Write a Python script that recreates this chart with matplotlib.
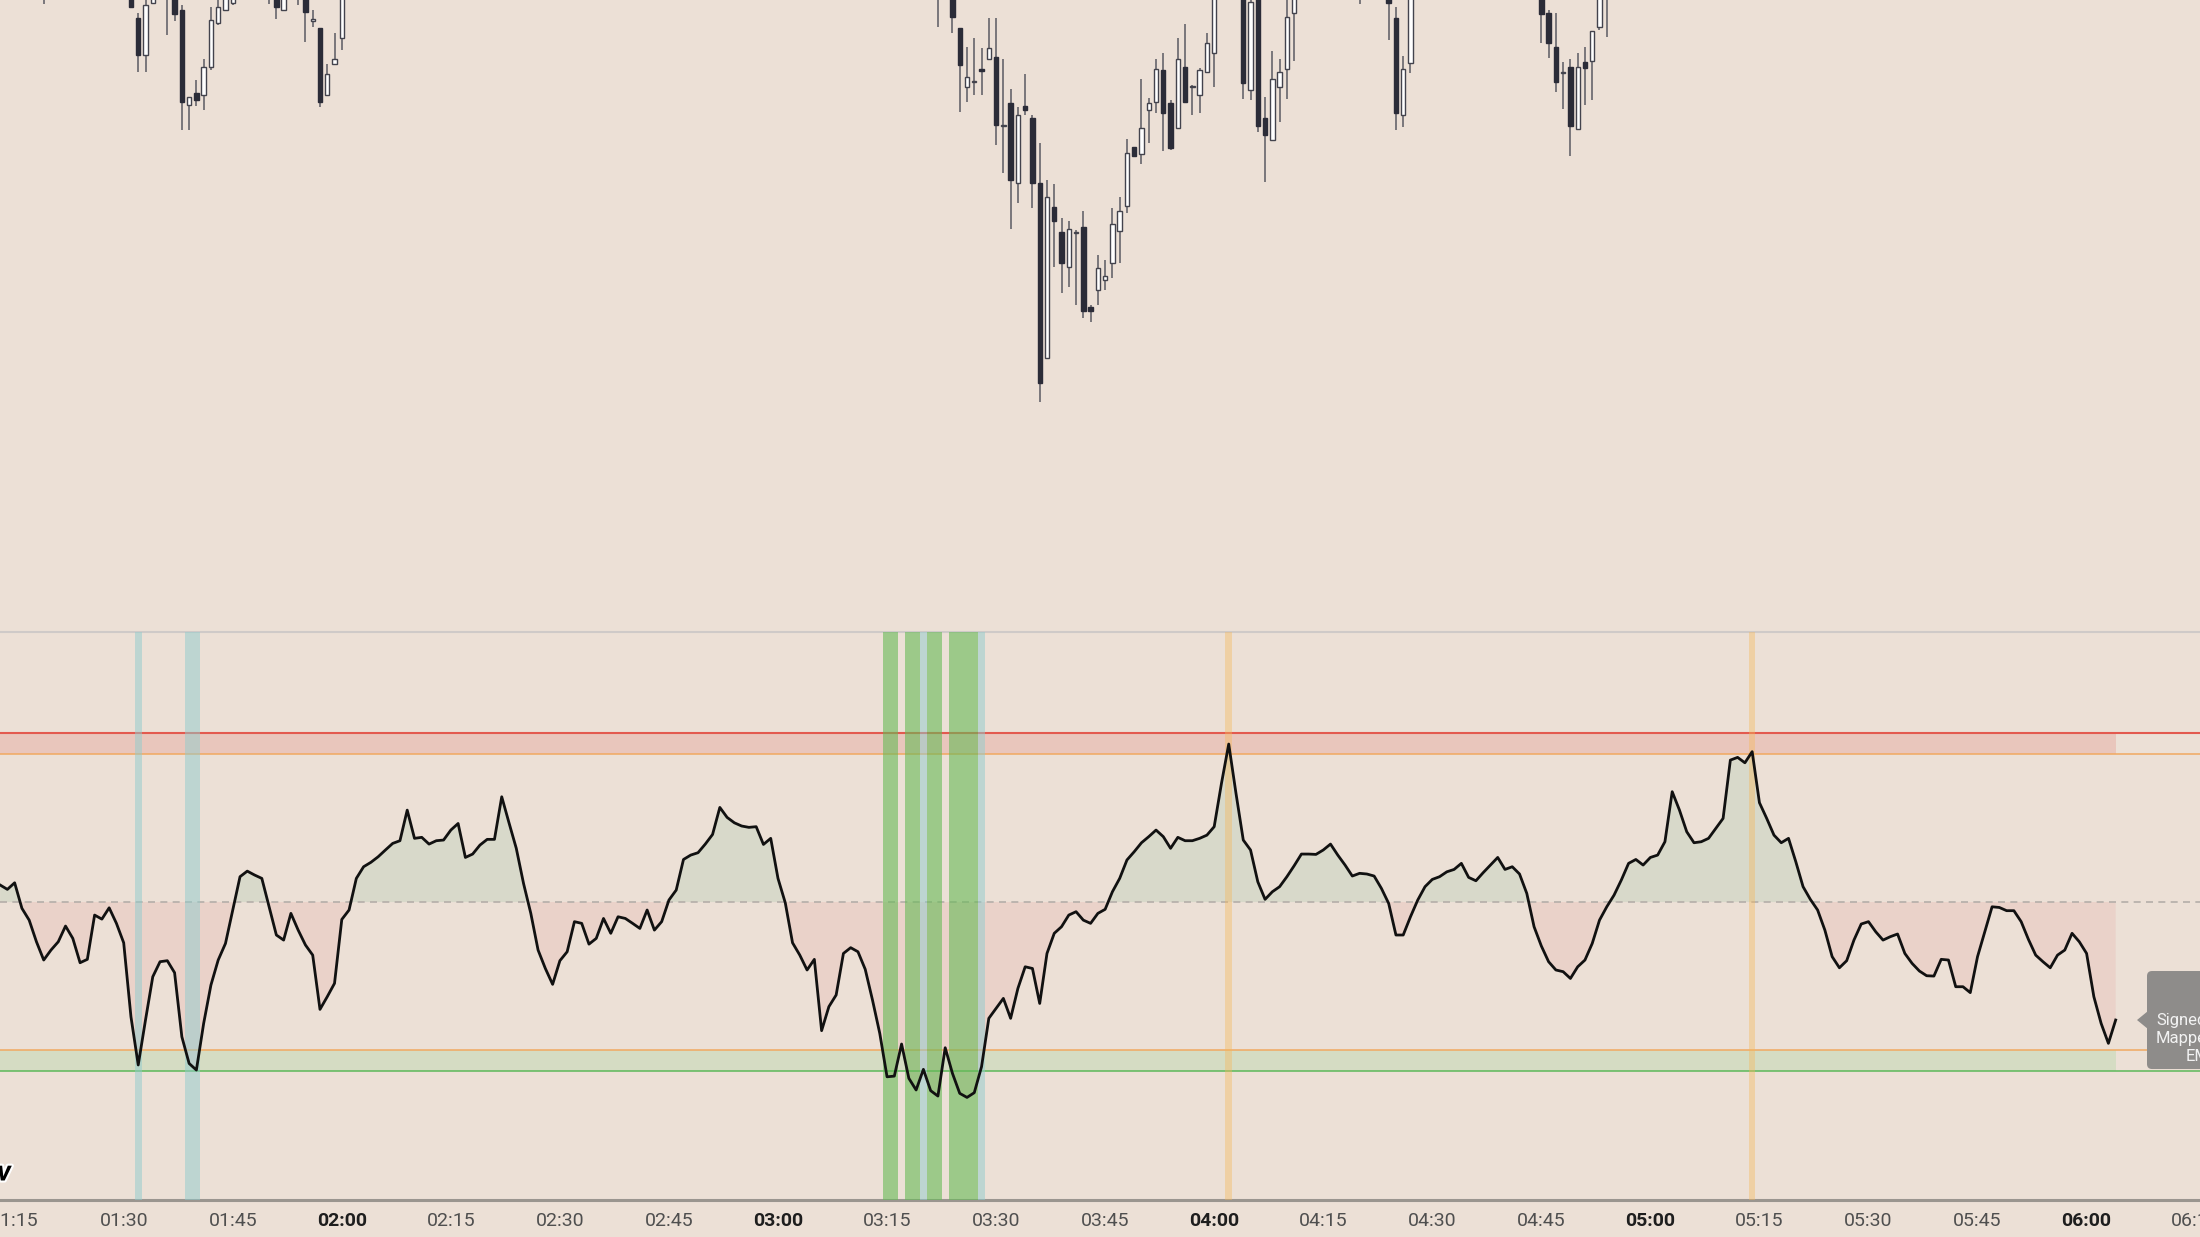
import numpy as np
import matplotlib.pyplot as plt
from matplotlib.patches import FancyBboxPatch, Polygon
from matplotlib.transforms import IdentityTransform
from matplotlib import patheffects

plt.rcParams['font.family'] = ['Roboto', 'DejaVu Sans']

# one bar per minute, bar 0 = 01:13
start_min = 73

# oscillator ("Signed Mapped EMA"), one value per bar
osc = [
    10.1, 7.5, 11.4, -3.7, -10.7, -23.5, -34.3, -28.4, -23.5, -14.2,
    -21.5, -35.9, -33.9, -7.7, -10.1, -3.4, -12.6, -24.1, -67.9, -96.4,
    -69.8, -44.2, -35.3, -34.7, -41.8, -79.7, -95.5, -99.4, -71.8, -49.1,
    -34.3, -24.5, -4.7, 15.0, 18.3, 16.0, 14.0, -2.8, -19.5, -22.5,
    -6.7, -16.6, -25.4, -31.4, -63.5, -56.0, -48.1, -10.3, -4.7, 14.0,
    20.9, 23.5, 26.8, 30.8, 34.7, 36.3, 54.4, 37.7, 38.3, 34.3,
    36.3, 36.7, 42.6, 46.5, 26.4, 28.4, 33.7, 37.1, 37.1, 62.3,
    46.9, 31.8, 11.0, -6.7, -28.4, -39.3, -48.7, -34.7, -29.4, -11.6,
    -12.6, -24.9, -21.5, -9.7, -18.5, -8.7, -9.7, -12.6, -15.6, -4.7,
    -16.6, -11.6, 1.2, 7.1, 25.2, 27.8, 29.2, 34.3, 40.0, 56.0,
    50.1, 46.9, 45.0, 44.2, 44.6, 34.1, 37.7, 14.0, -0.4, -24.1,
    -31.4, -40.2, -33.9, -76.1, -61.9, -55.0, -30.4, -27.0, -29.4, -39.8,
    -58.0, -77.7, -103.4, -103.0, -84.0, -104.3, -111.2, -99.0, -111.6, -114.8,
    -86.2, -101.4, -113.2, -115.6, -112.8, -97.4, -68.8, -62.9, -57.0, -68.8,
    -51.1, -38.3, -39.3, -60.0, -30.4, -18.5, -14.6, -7.7, -5.7, -10.7,
    -12.6, -6.7, -4.3, 6.1, 14.0, 24.9, 29.8, 35.1, 38.7, 42.6,
    38.7, 31.8, 38.3, 36.3, 36.3, 37.7, 39.6, 44.6, 70.2, 93.5,
    64.3, 36.7, 30.8, 12.0, 1.6, 6.1, 9.1, 15.0, 21.5, 28.4,
    28.4, 28.2, 30.8, 34.3, 27.8, 21.9, 15.4, 17.0, 16.6, 15.4,
    8.1, -0.8, -19.5, -19.5, -8.7, 1.2, 9.1, 13.4, 15.0, 17.9,
    19.3, 22.9, 14.6, 12.6, 17.4, 21.9, 26.4, 19.3, 20.9, 16.6,
    5.1, -14.6, -26.0, -35.3, -40.2, -41.2, -45.2, -38.3, -34.3, -24.5,
    -10.7, -2.8, 4.1, 13.0, 22.9, 25.2, 21.9, 26.4, 27.8, 35.7,
    65.3, 54.4, 41.6, 35.1, 35.7, 37.7, 43.6, 49.5, 84.0, 85.6,
    82.4, 89.0, 58.8, 49.5, 39.6, 35.1, 37.7, 23.9, 9.1, 1.6,
    -4.7, -16.6, -32.3, -38.9, -34.7, -22.5, -13.0, -11.6, -17.6, -22.5,
    -20.5, -18.9, -30.4, -36.3, -40.8, -43.6, -43.8, -33.9, -34.3, -50.1,
    -50.1, -53.6, -32.3, -17.6, -2.8, -3.2, -5.1, -5.1, -11.6, -22.1,
    -31.4, -35.3, -38.9, -31.4, -28.4, -18.5, -23.5, -30.4, -56.0, -71.8,
    -83.6, -69.8,
]

# candles visible in the price pane (bar index, OHLC)
cdl_idx = [6, 18, 19, 20, 21, 23, 24, 25, 26, 27, 28, 29, 30, 31, 32, 37, 38, 39, 41, 42, 43, 44, 45, 46, 47,
           129, 131, 132, 133, 134, 135, 136, 137, 138, 139, 140, 141, 142, 143, 144, 145, 146, 147, 148, 149,
           150, 151, 152, 153, 154, 155, 156, 157, 158, 159, 160, 161, 162, 163, 164, 165, 166, 167,
           171, 172, 173, 174, 175, 176, 177, 178, 187, 191, 192, 193, 194,
           212, 213, 214, 215, 216, 217, 218, 219, 220, 221]
cdl_open = [5901.0, 5900.75, 5899.09, 5897.25, 5899.87, 5900.5, 5901.0, 5899.5, 5894.75, 5895.34, 5895.25, 5896.67,
            5898.87, 5899.5, 5899.87, 5900.5, 5901.25, 5899.5, 5901.5, 5901.0, 5898.97, 5898.59, 5895.25, 5896.8, 5898.09,
            5900.5, 5901.0, 5898.59, 5895.64, 5895.88, 5896.55, 5897.04, 5897.17, 5893.68, 5894.84, 5890.87, 5894.7,
            5894.09, 5890.87, 5882.09, 5889.67, 5888.42, 5886.64, 5888.35, 5888.64, 5884.64, 5885.5, 5886.0, 5886.87,
            5888.47, 5889.7, 5892.64, 5892.3, 5894.5, 5894.92, 5896.5, 5894.84, 5893.59, 5896.67, 5895.63, 5895.25,
            5896.42, 5897.37,
            5901.5, 5895.5, 5901.0, 5894.09, 5893.0, 5895.64, 5896.54, 5899.37, 5900.5, 5900.5, 5899.09, 5894.25, 5896.84,
            5901.0, 5899.37, 5897.67, 5896.33, 5896.67, 5893.54, 5896.92, 5896.97, 5898.64, 5900.5]
cdl_high = [5902.5, 5901.25, 5899.37, 5900.15, 5901.0, 5902.0, 5901.5, 5899.75, 5895.14, 5896.0, 5897.04, 5899.64,
            5900.25, 5901.25, 5901.5, 5902.0, 5901.75, 5901.5, 5902.0, 5901.5, 5899.5, 5898.59, 5896.8, 5898.37, 5901.5,
            5902.0, 5901.5, 5898.59, 5897.67, 5898.09, 5897.59, 5899.09, 5899.09, 5897.04, 5895.54, 5894.67, 5896.3,
            5894.25, 5892.84, 5891.0, 5890.8, 5889.09, 5888.97, 5888.5, 5889.47, 5884.75, 5887.25, 5887.0, 5889.59,
            5890.14, 5893.04, 5892.64, 5896.04, 5895.09, 5897.04, 5897.34, 5895.0, 5898.09, 5898.8, 5895.75, 5896.59,
            5898.34, 5901.25,
            5902.0, 5900.5, 5901.5, 5895.14, 5897.47, 5897.04, 5900.25, 5901.5, 5902.0, 5901.0, 5899.64, 5897.2, 5901.5,
            5901.5, 5899.5, 5899.34, 5896.92, 5897.04, 5897.34, 5897.67, 5898.47, 5901.5, 5902.0]
cdl_low = [5899.8, 5899.6, 5896.42, 5896.42, 5899.8, 5898.25, 5898.97, 5893.5, 5893.5, 5894.7, 5894.5, 5896.5,
           5898.75, 5899.5, 5899.75, 5899.8, 5899.04, 5899.5, 5899.75, 5897.92, 5898.67, 5894.67, 5895.25, 5896.8, 5897.5,
           5898.67, 5898.35, 5894.42, 5894.92, 5895.25, 5895.25, 5897.04, 5892.75, 5891.34, 5888.54, 5889.87, 5894.25,
           5889.59, 5879.92, 5882.09, 5886.67, 5885.34, 5885.64, 5884.75, 5884.09, 5883.92, 5884.75, 5885.5, 5886.09,
           5886.84, 5889.34, 5892.17, 5891.8, 5892.84, 5894.34, 5892.47, 5892.5, 5893.59, 5894.92, 5894.25, 5894.34,
           5896.42, 5895.64,
           5895.04, 5895.0, 5893.42, 5890.92, 5893.0, 5893.92, 5895.04, 5896.97, 5899.8, 5898.0, 5893.5, 5893.64, 5896.34,
           5897.87, 5897.09, 5895.42, 5894.54, 5892.2, 5893.54, 5894.75, 5895.0, 5898.5, 5898.14]
cdl_close = [5902.0, 5899.67, 5897.25, 5899.75, 5900.5, 5901.5, 5899.3, 5894.92, 5895.14, 5895.0, 5896.67, 5899.0,
             5899.67, 5900.75, 5901.0, 5901.5, 5899.67, 5901.0, 5900.25, 5899.42, 5899.04, 5894.92, 5896.3, 5897.04, 5901.0,
             5901.5, 5899.17, 5896.75, 5896.14, 5895.95, 5896.45, 5897.59, 5893.75, 5893.73, 5891.0, 5894.25, 5894.5,
             5890.87, 5880.84, 5890.14, 5888.97, 5886.84, 5888.54, 5888.42, 5884.47, 5884.47, 5886.59, 5886.2, 5888.8,
             5889.47, 5892.37, 5892.2, 5893.59, 5894.84, 5896.54, 5894.37, 5892.59, 5897.04, 5894.92, 5895.7, 5896.5,
             5897.84, 5900.75,
             5895.84, 5899.92, 5893.7, 5893.25, 5896.04, 5896.42, 5899.14, 5901.0, 5901.5, 5899.87, 5894.37, 5896.54, 5901.0,
             5899.3, 5897.87, 5895.92, 5896.4, 5893.7, 5896.67, 5896.59, 5898.47, 5901.0, 5901.5]

# oscillator levels
upper_outer, upper_inner = 100, 87.5
lower_inner, lower_outer = -87.5, -100

# highlighted bars
blue_bars = [19, 26, 27, 127, 135]
green_bars = [122, 123, 125, 126, 128, 129, 131, 132, 133, 134]
orange_bars = [169, 241]

tick_minutes = list(range(75, 376, 15))

BG = '#ece0d6'
W, H = 2200, 1237

fig = plt.figure(figsize=(22, 12.37), dpi=100, facecolor=BG)
ax_top = fig.add_axes([0, 1 - 632 / H, 1, 632 / H], facecolor=BG)
ax = fig.add_axes([0, 1 - 1200 / H, 1, 568 / H], facecolor=BG)

xlim = (-0.014, 302.6)

# ---- price pane
ci = np.array(cdl_idx)
o = np.array(cdl_open)
hi = np.array(cdl_high)
lo = np.array(cdl_low)
c = np.array(cdl_close)
up = c >= o
ax_top.vlines(ci, lo, hi, color='#5a5a62', lw=1.1, zorder=1)
ax_top.bar(ci[up], np.maximum((c - o)[up], 0.04), bottom=o[up], width=0.6,
           color='white', edgecolor='#43434d', lw=1.0, zorder=2)
ax_top.bar(ci[~up], (o - c)[~up], bottom=c[~up], width=0.6,
           color='#2b2c38', edgecolor='#2b2c38', lw=1.0, zorder=2)
ax_top.set_xlim(*xlim)
ax_top.set_ylim(5900 - 632 / 20, 5900)
ax_top.axis('off')

# ---- oscillator pane
x = np.arange(len(osc))
v = np.array(osc)
ax.fill_between(x, upper_inner, upper_outer, color='#e9c6bc', lw=0, zorder=1)
ax.fill_between(x, lower_outer, lower_inner, color='#d5dcc3', lw=0, zorder=1)
ax.fill_between(x, v, 0, where=v >= 0, interpolate=True, color='#d8d9ca', lw=0, zorder=1)
ax.fill_between(x, v, 0, where=v <= 0, interpolate=True, color='#ead2c9', lw=0, zorder=1)

ax.axhline(upper_outer, color='#e35a4f', lw=1.5, zorder=2)
ax.axhline(upper_inner, color='#f1a860', lw=1.1, zorder=2)
ax.axhline(lower_inner, color='#f1a860', lw=1.1, zorder=2)
ax.axhline(lower_outer, color='#5cb85a', lw=1.1, zorder=2)
ax.axhline(0, color='#b4aea9', lw=1.2, ls=(0, (4.2, 3.2)), zorder=2)

for b in green_bars:
    ax.axvspan(b - 0.5, b + 0.5, color='#67ba57', alpha=0.6, lw=0, zorder=3)
for b in blue_bars:
    ax.axvspan(b - 0.5, b + 0.5, color='#90cccd', alpha=0.5, lw=0, zorder=3)
for b in orange_bars:
    ax.axvspan(b - 0.45, b + 0.45, color='#f6b85a', alpha=0.4, lw=0, zorder=3)

ax.plot(x, v, color='#111111', lw=2.0, zorder=5)

ax.set_xlim(*xlim)
ax.set_ylim(-176.3, 159.8)
ax.set_yticks([])
for s in ['left', 'right']:
    ax.spines[s].set_visible(False)
ax.spines['top'].set_color('#cfcac8')
ax.spines['top'].set_linewidth(1.5)
ax.spines['bottom'].set_color('#9a958f')
ax.spines['bottom'].set_linewidth(2.2)

ax.set_xticks([t - start_min for t in tick_minutes])
ax.set_xticklabels(['%02d:%02d' % (t // 60, t % 60) for t in tick_minutes])
ax.tick_params(axis='x', length=0, pad=9, labelsize=14, labelcolor='#4f4f4f')
for lab, t in zip(ax.get_xticklabels(), tick_minutes):
    if t % 60 == 0:
        lab.set_fontweight('bold')
        lab.set_color('#1e1e1e')

# ---- value label at the right edge
tip_y = ax.transData.transform((x[-1], v[-1]))[1]
fig.add_artist(FancyBboxPatch((2147, tip_y - 49), 80, 98,
                              boxstyle='round,pad=0,rounding_size=5',
                              transform=IdentityTransform(),
                              facecolor='#8e8c8a', edgecolor='none', zorder=10))
fig.add_artist(Polygon([(2148, tip_y + 9), (2137, tip_y), (2148, tip_y - 9)],
                       closed=True, transform=IdentityTransform(),
                       facecolor='#8e8c8a', edgecolor='none', zorder=10))
for txt, xp, dy in [('Signed', 2156, 0), ('Mapped', 2156, -18), ('EMA', 2186, -36)]:
    fig.text(xp / W, (tip_y + dy) / H, txt, fontsize=12, color='#f2f2f2',
             ha='left', va='center', zorder=11)

# bit of the logo at the lower left corner
fig.text(-3 / W, 1 - 1175 / H, 'V', fontsize=15, fontweight='heavy', color='black',
         ha='left', va='center', style='italic',
         path_effects=[patheffects.withStroke(linewidth=3, foreground='white')])

fig.savefig('out.png', dpi=100, facecolor=BG)
